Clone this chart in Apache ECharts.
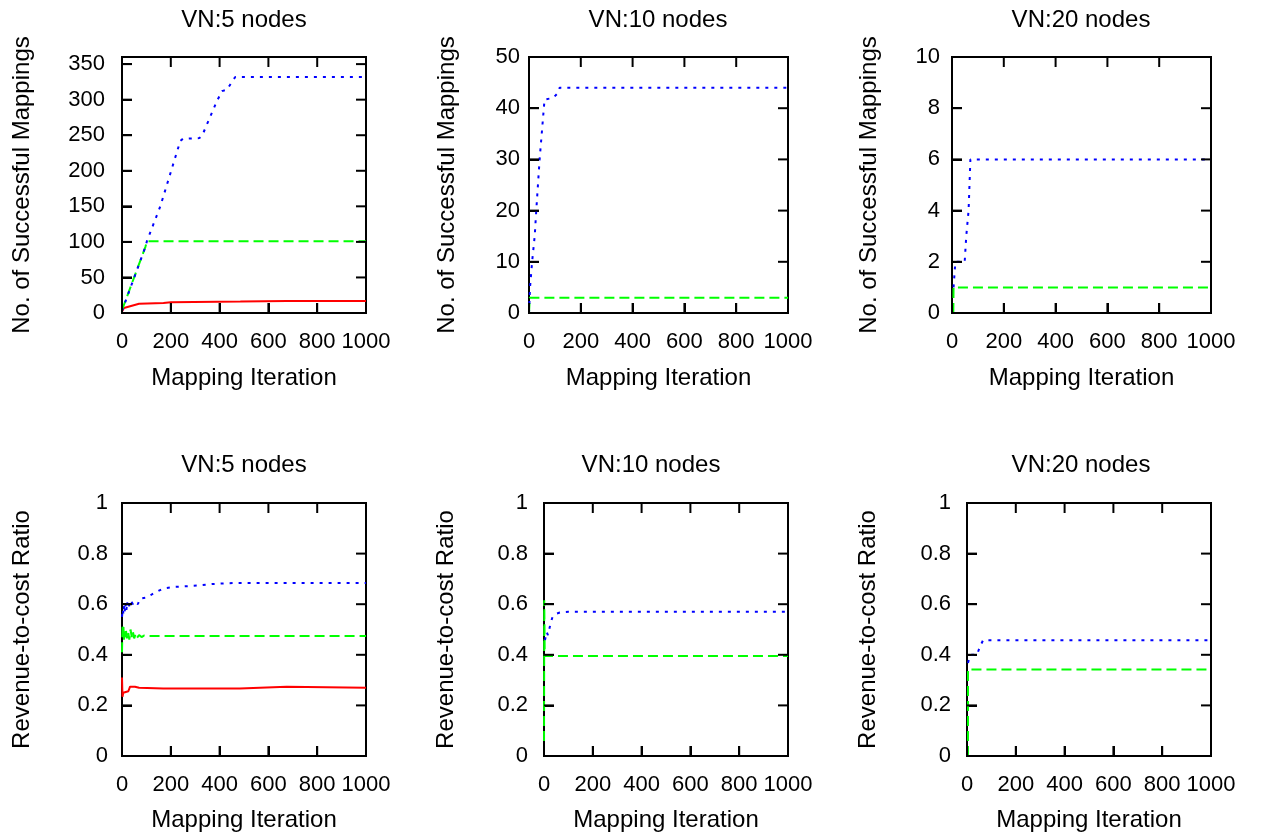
<!DOCTYPE html>
<html>
<head>
<meta charset="utf-8">
<script src="https://cdn.jsdelivr.net/npm/echarts@6/dist/echarts.min.js"></script>
<style>
html,body{margin:0;padding:0;background:#fff;}
#chart{width:1261px;height:836px;}
</style>
</head>
<body>
<div id="chart"></div>
<script>
// ---------- data ----------
const xTicks = [0, 200, 400, 600, 800, 1000];
const titles = ['VN:5 nodes', 'VN:10 nodes', 'VN:20 nodes', 'VN:5 nodes', 'VN:10 nodes', 'VN:20 nodes'];
const yNameTop = 'No. of Successful Mappings';
const yNameBottom = 'Revenue-to-cost Ratio';
const xName = 'Mapping Iteration';

const yTicks5Map = [0, 50, 100, 150, 200, 250, 300, 350];
const yTicks10Map = [0, 10, 20, 30, 40, 50];
const yTicks20Map = [0, 2, 4, 6, 8, 10];
const yTicksRatio = [0, 0.2, 0.4, 0.6, 0.8, 1];

// VN:5 nodes - successful mappings
const red5Map = [[0,2],[8,7],[48,11],[70,13],[170,14],[200,15],[485,16],[676,17],[1000,17]];
const green5Map = [[0,4],[55,55],[96,93],[102,101],[1000,101]];
const blue5Map = [[0,3],[96,93],[102,101],[157,150],[239,242],[250,245],[317,246],[328,249],[389,298],[410,312],[430,314],[458,329],[465,332],[1000,332]];

// VN:10 nodes - successful mappings
const green10Map = [[0,0],[3,3],[1000,3]];
const blue10Map = [[0,0],[4,5],[12,10],[22,15],[28,20],[41,30],[60,41.7],[64,42],[93,42],[112,43],[118,44],[1000,44]];

// VN:20 nodes - successful mappings
const green20Map = [[5,0],[6,1],[1000,1]];
const blue20Map = [[6,1],[13,2],[49,2],[55,3],[64,4],[71,6],[1000,6]];

// VN:5 nodes - revenue-to-cost ratio
const red5Ratio = [[0,0.31],[2,0.234],[5,0.25],[10,0.254],[26,0.256],[33,0.274],[53,0.274],[70,0.27],[169,0.267],[483,0.267],[490,0.274],[675,0.274],[680,0.27],[1000,0.27]];
const green5Ratio = [[0,0.41],[2,0.52],[4,0.47],[6,0.51],[8,0.46],[10,0.5],[13,0.47],[16,0.5],[20,0.465],[25,0.49],[30,0.46],[35,0.5],[40,0.47],[45,0.49],[50,0.465],[55,0.48],[60,0.465],[70,0.478],[80,0.47],[90,0.476],[100,0.474],[1000,0.474]];
const blue5Ratio = [[0,0.55],[3,0.58],[6,0.56],[9,0.6],[12,0.57],[15,0.6],[18,0.575],[21,0.61],[24,0.585],[27,0.6],[32,0.59],[38,0.61],[45,0.6],[55,0.61],[65,0.6],[74,0.622],[101,0.626],[128,0.642],[169,0.662],[210,0.668],[265,0.671],[320,0.675],[374,0.68],[456,0.684],[1000,0.684]];

// VN:10 nodes - revenue-to-cost ratio
const green10Ratio = [[0,0],[1,0.616],[3,0.395],[1000,0.395]];
const blue10Ratio = [[4,0.458],[11,0.49],[16,0.478],[27,0.524],[35,0.55],[42,0.545],[52,0.563],[65,0.567],[100,0.57],[1000,0.57]];

// VN:20 nodes - revenue-to-cost ratio
const green20Ratio = [[4,0],[4,0.342],[1000,0.342]];
const blue20Ratio = [[4,0.368],[11,0.392],[16,0.4],[41,0.4],[52,0.43],[66,0.458],[1000,0.458]];

// ---------- layout ----------
const FONT = "'Liberation Sans', Arial, Helvetica, sans-serif";
const panels = [
  {grid:{left:122, top:57, width:244, height:256}, yMax:360, yInt:50, yTicks:yTicks5Map, yName:yNameTop, yGap:88, yMargin:17, title:[244,20], xGap:53,
   series:[{d:red5Map,c:'red'},{d:green5Map,c:'green'},{d:blue5Map,c:'blue'}]},
  {grid:{left:529, top:57, width:259, height:256}, yMax:50, yInt:10, yTicks:yTicks10Map, yName:yNameTop, yGap:70, yMargin:9, title:[658,20], xGap:53,
   series:[{d:green10Map,c:'green'},{d:blue10Map,c:'blue'}]},
  {grid:{left:952, top:57, width:259, height:256}, yMax:10, yInt:2, yTicks:yTicks20Map, yName:yNameTop, yGap:71, yMargin:12, title:[1081,20], xGap:53,
   series:[{d:green20Map,c:'green'},{d:blue20Map,c:'blue'}]},
  {grid:{left:122, top:503, width:244, height:253}, yMax:1, yInt:0.2, yTicks:yTicksRatio, yName:yNameBottom, yGap:88, yMargin:14, title:[244,465], xGap:52,
   series:[{d:red5Ratio,c:'red'},{d:green5Ratio,c:'green'},{d:blue5Ratio,c:'blue'}]},
  {grid:{left:544, top:503, width:244, height:253}, yMax:1, yInt:0.2, yTicks:yTicksRatio, yName:yNameBottom, yGap:86, yMargin:16, title:[651,465], xGap:52,
   series:[{d:green10Ratio,c:'green'},{d:blue10Ratio,c:'blue'}]},
  {grid:{left:967, top:503, width:244, height:253}, yMax:1, yInt:0.2, yTicks:yTicksRatio, yName:yNameBottom, yGap:87, yMargin:16, title:[1081,465], xGap:52,
   series:[{d:green20Ratio,c:'green'},{d:blue20Ratio,c:'blue'}]}
];

const styles = {
  red:   {color:'#ff0000', type:'solid'},
  green: {color:'#00ff00', type:[10,5]},
  blue:  {color:'#0000ff', type:[3,6]}
};

const TICK_LEN = 10;
const mkLine = () => ({color:'#000', width:2});
const grids = [], xAxes = [], yAxes = [], series = [], graphics = [];
const plain = v => String(+(+v).toFixed(4));

// mirrored inside ticks on all four sides, placed through the axis scales
function tickRender(params, api) {
  const pt = api.coord([api.value(0), api.value(1)]);
  const side = api.value(2);
  let x2 = pt[0], y2 = pt[1];
  if (side === 0) y2 -= TICK_LEN;       // bottom
  else if (side === 1) y2 += TICK_LEN;  // top
  else if (side === 2) x2 += TICK_LEN;  // left
  else x2 -= TICK_LEN;                  // right
  return {type:'line', shape:{x1:pt[0], y1:pt[1], x2:x2, y2:y2}, style:{stroke:'#000', lineWidth:2}};
}

panels.forEach((p, i) => {
  grids.push({left:p.grid.left, top:p.grid.top, width:p.grid.width, height:p.grid.height,
              show:true, borderColor:'#000', borderWidth:2, backgroundColor:'transparent'});
  xAxes.push({
    gridIndex:i, type:'value', min:0, max:1000, interval:200, position:'bottom',
    splitLine:{show:false},
    axisLine:{show:true, onZero:false, lineStyle:mkLine()},
    axisTick:{show:true, inside:true, length:TICK_LEN, lineStyle:mkLine()},
    axisLabel:{show:true, color:'#000', fontSize:22, fontFamily:FONT, margin:18, showMinLabel:true, showMaxLabel:true, formatter:plain},
    name:xName, nameLocation:'middle', nameGap:p.xGap,
    nameTextStyle:{color:'#000', fontSize:24, fontFamily:FONT}
  });
  yAxes.push({
    gridIndex:i, type:'value', min:0, max:p.yMax, interval:p.yInt, position:'left',
    splitLine:{show:false},
    axisLine:{show:true, onZero:false, lineStyle:mkLine()},
    axisTick:{show:true, inside:true, length:TICK_LEN, lineStyle:mkLine()},
    axisLabel:{show:true, color:'#000', fontSize:22, fontFamily:FONT, margin:p.yMargin, showMinLabel:true,
      formatter: v => (p.yTicks.some(t => Math.abs(t - v) < 1e-9) ? plain(v) : '')},
    name:p.yName, nameLocation:'middle', nameGap:p.yGap, nameRotate:90,
    nameTextStyle:{color:'#000', fontSize:24, fontFamily:FONT}
  });
  p.series.forEach(s => {
    series.push({
      type:'line', xAxisIndex:i, yAxisIndex:i, data:s.d,
      showSymbol:false, symbol:'none', silent:true,
      lineStyle:{color:styles[s.c].color, width:2, type:styles[s.c].type}
    });
  });
  const tickData = [];
  xTicks.forEach(t => { tickData.push([t, 0, 0]); tickData.push([t, p.yMax, 1]); });
  p.yTicks.forEach(t => { tickData.push([0, t, 2]); tickData.push([1000, t, 3]); });
  series.push({
    type:'custom', xAxisIndex:i, yAxisIndex:i, data:tickData, renderItem:tickRender,
    silent:true, clip:false, z:5, encode:{x:0, y:1}
  });
  graphics.push({
    type:'text', x:p.title[0], y:p.title[1],
    style:{text:titles[i], fill:'#000', font:'24px ' + FONT, textAlign:'center', textVerticalAlign:'middle'}
  });
});

const chart = echarts.init(document.getElementById('chart'), null, {renderer:'canvas'});
chart.setOption({
  animation:false,
  backgroundColor:'#fff',
  grid:grids, xAxis:xAxes, yAxis:yAxes, series:series, graphic:graphics
});
</script>
</body>
</html>
